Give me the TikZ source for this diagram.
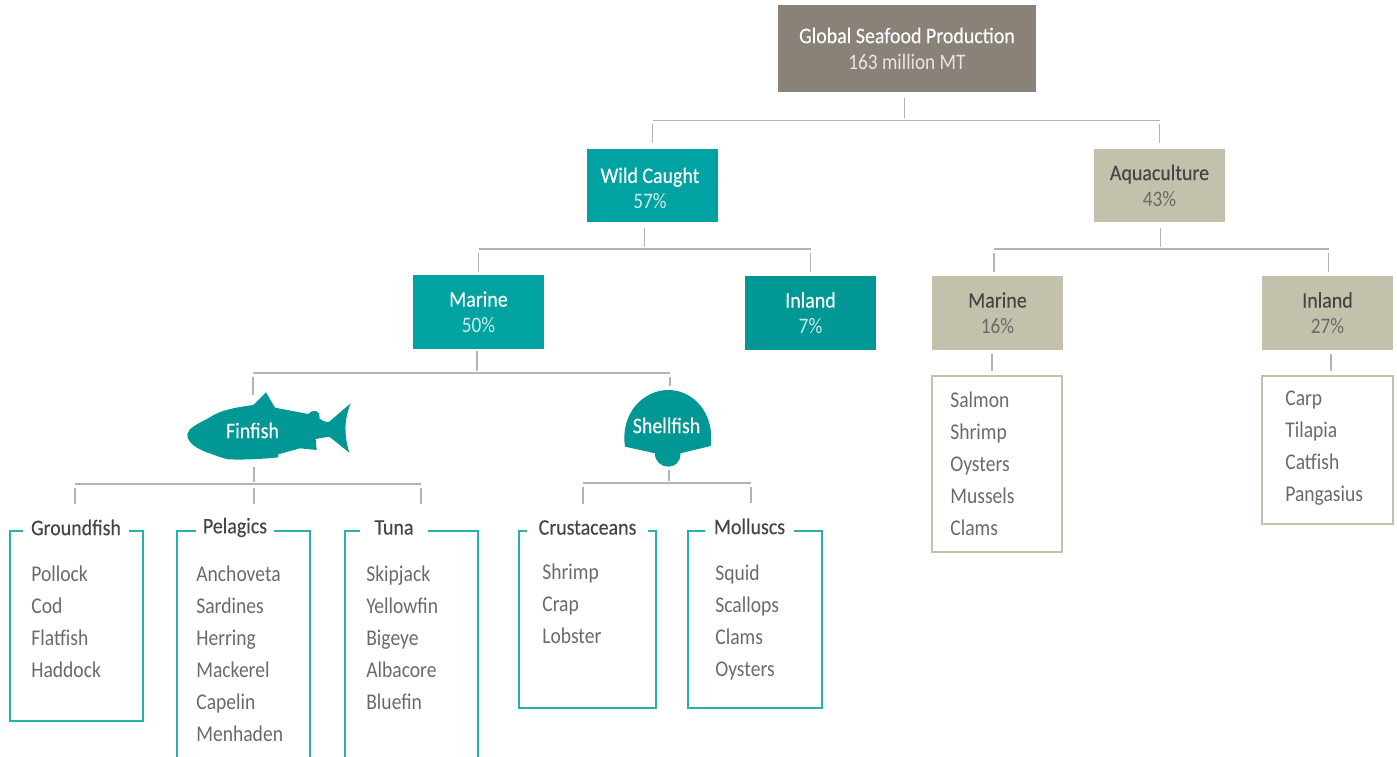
\documentclass[tikz,border=0pt]{standalone}
\usepackage{tikz}
\usepackage{xcolor}
\usepackage{fontspec}
\setmainfont[FakeStretch=0.9,FakeBold=0.2]{Carlito}
\newfontfamily\itemfont[FakeStretch=0.87]{Carlito}
\definecolor{RootGrey}{HTML}{8A8179}
\definecolor{WildTeal}{HTML}{00A3A1}
\definecolor{DeepTeal}{HTML}{009794}
\definecolor{AquaSand}{HTML}{C3C1AB}
\definecolor{LinkGrey}{HTML}{B4B4B0}
\definecolor{BodyGrey}{HTML}{6A6A6A}
\definecolor{HeadGrey}{HTML}{454545}
\tikzset{
  headbox/.style={minimum width=2.62cm,minimum height=1.47cm,inner sep=0pt,align=center,font=\fontsize{12.6}{14.8}\selectfont},
  tealhead/.style={headbox,fill=WildTeal,text=white},
  sandhead/.style={headbox,fill=AquaSand,text=HeadGrey},
  link/.style={LinkGrey,line width=0.6pt},
  upstub/.style={link,shorten <=0.1cm,shorten >=0.05cm},
  downstub/.style={link,shorten <=0.07cm,shorten >=0.1cm},
  boxtitle/.style={inner ysep=0pt,inner xsep=0.12cm,minimum height=0.92cm,font=\fontsize{12.6}{14}\selectfont,text=HeadGrey},
  itemlist/.style={inner sep=0pt,anchor=north west,align=left,text=BodyGrey,font=\itemfont\fontsize{12.8}{18.21}\selectfont},
  tealframe/.style={WildTeal!85,line width=0.65pt},
  sandframe/.style={draw=AquaSand,line width=0.8pt,inner sep=0pt},
  shapelabel/.style={inner sep=0pt,text=white,font=\fontsize{12.6}{14}\selectfont}
}
\begin{document}
\begin{tikzpicture}[x=0.02cm,y=-0.02cm]
  \useasboundingbox (0,0) rectangle (1397,757);

  % top of the tree
  \node[headbox,minimum width=5.16cm,minimum height=1.76cm,fill=RootGrey,text=white] (root) at (907,48.5) {Global Seafood Production\\{\itemfont\color{white!80!RootGrey}163 million MT}};
  \node[tealhead] (wild) at (652.5,185.5) {\rule{0pt}{12pt}Wild Caught\hspace*{0.1cm}\\{\itemfont\color{white!80!WildTeal}57\%}\hspace*{0.1cm}};
  \node[sandhead] (aqua) at (1159.5,185.5) {Aquaculture\\{\itemfont\color{BodyGrey}43\%}};

  \node[tealhead] (wildmarine) at (478.5,312) {Marine\\{\itemfont\color{white!80!WildTeal}50\%}};
  \node[tealhead,fill=DeepTeal] (wildinland) at (810.5,313) {Inland\\{\itemfont\color{white!80!DeepTeal}7\%}};
  \node[sandhead] (aquamarine) at (997.5,313) {Marine\\{\itemfont\color{BodyGrey}16\%}};
  \node[sandhead] (aquainland) at (1327.5,313) {Inland\\{\itemfont\color{BodyGrey}27\%}};

  % root links
  \coordinate (rootbar) at (904.5,120.5);
  \draw[upstub] (rootbar |- root.south) -- (rootbar);
  \draw[link] (wild.north |- rootbar) -- (aqua.north |- rootbar);
  \draw[downstub] (wild.north |- rootbar) -- (wild.north);
  \draw[downstub] (aqua.north |- rootbar) -- (aqua.north);

  % wild and aquaculture links
  \coordinate (wildbar) at (644.5,249);
  \draw[upstub] (wildbar |- wild.south) -- (wildbar);
  \draw[link] (wildmarine.north |- wildbar) -- (wildinland.north |- wildbar);
  \draw[downstub,shorten >=0.06cm] (wildmarine.north |- wildbar) -- (wildmarine.north);
  \draw[downstub,shorten >=0.08cm] (wildinland.north |- wildbar) -- (wildinland.north);
  \coordinate (aquabar) at (1160.5,249);
  \coordinate (aquabarl) at (994,249);
  \coordinate (aquabarr) at (1328.5,249);
  \draw[upstub] (aquabar |- aqua.south) -- (aquabar);
  \draw[link] (aquabarl) -- (aquabarr);
  \draw[downstub,shorten >=0.08cm] (aquabarl) -- (aquabarl |- aquamarine.north);
  \draw[downstub,shorten >=0.08cm] (aquabarr) -- (aquabarr |- aquainland.north);

  % fish
  \begin{scope}[shift={(170,360)},x=0.02cm/3,y=-0.02cm/3]
    \fill[DeepTeal] (52,222) .. controls (55,205) and (80,193) .. (120,172)
      .. controls (150,150) and (200,142) .. (250,135) -- (288,97) -- (315,143)
      -- (415,162) .. controls (425,150) and (440,150) .. (447,160)
      .. controls (450,168) and (448,172) .. (448,175)
      .. controls (460,185) and (470,187) .. (478,185) -- (542,130)
      .. controls (522,180) and (522,225) .. (538,278) -- (478,230) -- (437,237)
      -- (440,270) -- (390,265) -- (325,283) -- (325,292)
      .. controls (280,297) and (220,300) .. (175,298)
      .. controls (150,293) and (130,283) .. (110,277)
      .. controls (85,267) and (50,250) .. (52,222) -- cycle;
  \end{scope}
  \node[shapelabel] (finfish) at (252.5,430.5) {Finfish};
  \coordinate (finfishtop) at (253,400);
  \coordinate (finfishbottom) at (254,462);

  % shell
  \begin{scope}[shift={(570,370)},x=0.02cm/3,y=-0.02cm/3]
    \fill[DeepTeal] (165,230) .. controls (150,130) and (220,60) .. (295,60)
      .. controls (370,60) and (435,130) .. (422,228) -- (331,250)
      .. controls (333,275) and (315,290) .. (295,290)
      .. controls (275,290) and (254,275) .. (255,250) -- cycle;
  \end{scope}
  \node[shapelabel] (shellfish) at (666.5,425.5) {Shellfish};
  \coordinate (shellfishtop) at (670,391);
  \coordinate (shellfishbottom) at (669,465);

  % teal box titles
  \node[boxtitle,inner xsep=0.16cm] (groundfish) at (76,527.5) {Groundfish};
  \node[boxtitle,inner xsep=0.14cm] (pelagics) at (235,527.5) {Pelagics};
  \node[boxtitle,inner xsep=0.28cm] (tuna) at (394,527.5) {Tuna};
  \node[boxtitle,inner xsep=0.22cm] (crustaceans) at (587.5,527.5) {Crustaceans};
  \node[boxtitle,inner xsep=0.18cm] (molluscs) at (749.5,526.5) {Molluscs};

  % marine links
  \coordinate (marinebar) at (477,373);
  \coordinate (marinebarl) at (253,373);
  \coordinate (marinebarr) at (670,373);
  \draw[upstub,shorten <=0.04cm] (marinebar |- wildmarine.south) -- (marinebar);
  \draw[link] (marinebarl) -- (marinebarr);
  \draw[downstub] (marinebarl) -- (finfishtop);
  \draw[downstub] (marinebarr) -- (shellfishtop);

  % finfish and shellfish links
  \coordinate (finbar) at (254,484);
  \coordinate (finbarl) at (75,484);
  \coordinate (finbarr) at (421,484);
  \draw[upstub] (finfishbottom) -- (finbar);
  \draw[link] (finbarl) -- (finbarr);
  \draw[downstub,shorten >=0pt] (finbarl) -- (finbarl |- groundfish.north);
  \draw[downstub,shorten >=0pt] (finbar) -- (finbar |- pelagics.north);
  \draw[downstub,shorten >=0pt] (finbarr) -- (finbarr |- tuna.north);
  \coordinate (shellbar) at (669,483);
  \coordinate (shellbarl) at (583,483);
  \coordinate (shellbarr) at (751,483);
  \draw[upstub] (shellfishbottom) -- (shellbar);
  \draw[link] (shellbarl) -- (shellbarr);
  \draw[downstub,shorten >=0pt] (shellbarl) -- (shellbarl |- crustaceans.north);
  \draw[downstub,shorten >=0pt] (shellbarr) -- (shellbarr |- molluscs.north);

  % teal boxes
  \coordinate (groundfishtl) at (10,531);
  \coordinate (groundfishbr) at (143,721);
  \draw[tealframe] (groundfish.west |- groundfishtl) -- (groundfishtl) |- (groundfishbr) |- (groundfish.east |- groundfishtl);
  \coordinate (pelagicstl) at (177,531);
  \coordinate (pelagicsbr) at (310,757);
  \draw[tealframe] (pelagics.west |- pelagicstl) -- (pelagicstl) -- (pelagicstl |- pelagicsbr);
  \draw[tealframe] (pelagics.east |- pelagicstl) -- (pelagicsbr |- pelagicstl) -- (pelagicsbr);
  \coordinate (tunatl) at (345,531);
  \coordinate (tunabr) at (478,757);
  \draw[tealframe] (tuna.west |- tunatl) -- (tunatl) -- (tunatl |- tunabr);
  \draw[tealframe] (tuna.east |- tunatl) -- (tunabr |- tunatl) -- (tunabr);
  \coordinate (crustaceanstl) at (519,531);
  \coordinate (crustaceansbr) at (656,708);
  \draw[tealframe] (crustaceans.west |- crustaceanstl) -- (crustaceanstl) |- (crustaceansbr) |- (crustaceans.east |- crustaceanstl);
  \coordinate (molluscstl) at (688,531);
  \coordinate (molluscsbr) at (822,708);
  \draw[tealframe] (molluscs.west |- molluscstl) -- (molluscstl) |- (molluscsbr) |- (molluscs.east |- molluscstl);

  \node[itemlist] (groundfishlist) at (31,565.5) {Pollock\\Cod\\Flatfish\\Haddock};
  \node[itemlist] (pelagicslist) at (196,565.5) {Anchoveta\\Sardines\\Herring\\Mackerel\\Capelin\\Menhaden};
  \node[itemlist] (tunalist) at (366,565.5) {Skipjack\\Yellowfin\\Bigeye\\Albacore\\Bluefin};
  \node[itemlist] (crustaceanslist) at (542,563.5) {Shrimp\\Crap\\Lobster};
  \node[itemlist] (molluscslist) at (715,564.5) {Squid\\Scallops\\Clams\\Oysters};

  % aquaculture lists
  \node[sandframe,minimum width=2.6cm,minimum height=3.52cm] (aquamarinebox) at (997,464) {};
  \node[sandframe,minimum width=2.62cm,minimum height=2.96cm] (aquainlandbox) at (1327.5,450) {};
  \coordinate (aquamarinedrop) at (992,362);
  \coordinate (aquainlanddrop) at (1331,362);
  \draw[downstub,shorten >=0.08cm] (aquamarinedrop |- aquamarine.south) -- (aquamarinedrop |- aquamarinebox.north);
  \draw[downstub,shorten >=0.08cm] (aquainlanddrop |- aquainland.south) -- (aquainlanddrop |- aquainlandbox.north);
  \node[itemlist] (aquamarinelist) at (950,391.5) {Salmon\\Shrimp\\Oysters\\Mussels\\Clams};
  \node[itemlist] (aquainlandlist) at (1285,391) {Carp\\Tilapia\\Catfish\\Pangasius};
\end{tikzpicture}
\end{document}
